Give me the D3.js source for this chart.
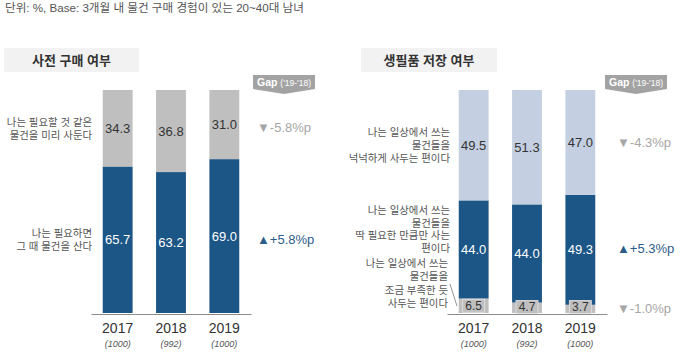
<!DOCTYPE html>
<html><head><meta charset="utf-8">
<script src="https://cdn.jsdelivr.net/npm/d3@7"></script>
<style>
body{margin:0;background:#fff;}
svg{display:block;font-family:"Liberation Sans","Noto Sans CJK KR",sans-serif;}
</style></head>
<body><svg id="c" width="680" height="358"></svg>
<script>
const years = ['2017','2018','2019'];
const samples = ['(1000)','(992)','(1000)'];
// left panel: 사전 구매 여부
const leftTop = [34.3, 36.8, 31.0];      // 미리 사둔다
const leftBottom = [65.7, 63.2, 69.0];   // 그 때 산다
const leftGaps = ['▼-5.8%p', '▲+5.8%p'];
// right panel: 생필품 저장 여부
const rightTop = [49.5, 51.3, 47.0];     // 넉넉하게
const rightMid = [44.0, 44.0, 49.3];     // 딱 필요한 만큼
const rightBottom = [6.5, 4.7, 3.7];     // 조금 부족한 듯
const rightGaps = ['▼-4.3%p', '▲+5.3%p', '▼-1.0%p'];

const C_BLUE = '#1c5686', C_GRAY = '#bfbfbf', C_LBLUE = '#c4cfe1';
const svg = d3.select('#c');

svg.append('text').attr('x', 5).attr('y', 12).attr('font-size', 11.6).attr('fill', '#555')
  .text('단위: %, Base: 3개월 내 물건 구매 경험이 있는 20~40대 남녀');

const y = d3.scaleLinear().domain([0, 100]).range([313, 90]);

function panel(x0, title, titleBox, series, colors, textColors, labels, gaps, gapX, gapLabelX) {
  const g = svg.append('g');
  const x = d3.scaleBand().domain(years).range([x0, x0 + 160]).paddingInner(0.44).paddingOuter(0.22);
  // title box
  g.append('rect').attr('x', titleBox[0]).attr('y', 48).attr('width', titleBox[1]).attr('height', 24).attr('fill', '#f2f2f2');
  g.append('text').attr('x', titleBox[0] + titleBox[1] / 2).attr('y', 65).attr('text-anchor', 'middle')
    .attr('font-size', 13).attr('font-weight', 'bold').attr('fill', '#333').text(title);
  // gap badge
  const gx = gapLabelX, gw = 62;
  g.append('path').attr('d', `M${gx},75 H${gx + gw} V89 L${gx + gw / 2},94 L${gx},89 Z`).attr('fill', '#a3a3a3');
  const gt = g.append('text').attr('x', gx + gw / 2).attr('y', 86).attr('text-anchor', 'middle').attr('fill', '#fff');
  gt.append('tspan').attr('font-size', 10.5).attr('font-weight', 'bold').text('Gap ');
  gt.append('tspan').attr('font-size', 8.5).text("('19-'18)");
  // stacked bars
  const stackData = years.map((yr, i) => {
    const o = { year: yr };
    series.forEach((s, k) => o['s' + k] = s[i]);
    return o;
  });
  const keys = series.map((s, k) => 's' + k);
  const stacked = d3.stack().keys(keys)(stackData);
  stacked.forEach((layer, k) => {
    g.selectAll(null).data(layer).enter().append('rect')
      .attr('x', d => x(d.data.year)).attr('width', x.bandwidth())
      .attr('y', d => y(d[1])).attr('height', d => y(d[0]) - y(d[1]))
      .attr('fill', colors[k]);
  });
  // value labels
  stacked.forEach((layer, k) => {
    layer.forEach(d => {
      const v = d.data[keys[k]];
      const mid = (y(d[0]) + y(d[1])) / 2;
      const small = v < 10;
      const cy = small ? Math.min(mid, 307) : mid;
      if (small) {
        g.append('rect').attr('x', x(d.data.year) + x.bandwidth() / 2 - 11).attr('y', cy - 6.5)
          .attr('width', 22).attr('height', 13).attr('fill', colors[k]).attr('stroke', '#e3e3e3').attr('stroke-width', 0.8);
      }
      g.append('text').attr('x', x(d.data.year) + x.bandwidth() / 2).attr('y', cy)
        .attr('dy', '0.36em').attr('text-anchor', 'middle').attr('font-size', small ? 12 : 13)
        .attr('fill', textColors[k]).text(v.toFixed(1));
    });
  });
  // axis
  const axis = d3.axisBottom(x).tickSize(0).tickPadding(9);
  const ag = g.append('g').attr('transform', 'translate(0,314)').call(axis);
  ag.select('.domain').attr('stroke', '#8c8c8c').attr('stroke-width', 1.2);
  ag.selectAll('.tick text').attr('font-size', 14).attr('fill', '#333').attr('font-family', '"Liberation Sans",sans-serif');
  ag.selectAll('.tick').append('text').attr('y', 27).attr('dy', '0.71em').attr('text-anchor', 'middle')
    .attr('font-size', 9).attr('font-style', 'italic').attr('fill', '#555')
    .text((d, i) => samples[i]);
  // category labels
  labels.forEach(lb => {
    const t = g.append('text').attr('text-anchor', 'end').attr('font-size', 10.4).attr('fill', '#555');
    lb.lines.forEach((ln, j) => t.append('tspan').attr('x', lb.x).attr('y', lb.y + j * lb.lh).text(ln));
  });
  // gap values
  gaps.forEach(gp => {
    const up = gp.t.startsWith('▲');
    g.append('text').attr('x', gapX).attr('y', gp.y).attr('dy', '0.36em').attr('font-size', 13)
      .attr('fill', up ? '#2b5d8a' : '#a6a6a6').text(gp.t);
  });
  return g;
}

panel(91, '사전 구매 여부', [4, 135], [leftBottom, leftTop], [C_BLUE, C_GRAY], ['#fff', '#333'],
  [{ x: 92, y: 126, lh: 12.5, lines: ['나는 필요할 것 같은', '물건을 미리 사둔다'] },
   { x: 92, y: 237, lh: 12.5, lines: ['나는 필요하면', '그 때 물건을 산다'] }],
  [{ t: leftGaps[0], y: 127 }, { t: leftGaps[1], y: 239 }],
  257, 253);

const rg = panel(447, '생필품 저장 여부', [361, 136], [rightBottom, rightMid, rightTop], [C_GRAY, C_BLUE, C_LBLUE], ['#333', '#fff', '#333'],
  [{ x: 450, y: 136, lh: 13, lines: ['나는 일상에서 쓰는', '물건들을', '넉넉하게 사두는 편이다'] },
   { x: 450, y: 214, lh: 12.7, lines: ['나는 일상에서 쓰는', '물건들을', '딱 필요한 만큼만 사는', '편이다'] },
   { x: 448, y: 267, lh: 13.3, lines: ['나는 일상에서 쓰는', '물건들을', '조금 부족한 듯', '사두는 편이다'] }],
  [{ t: rightGaps[0], y: 142 }, { t: rightGaps[1], y: 248 }, { t: rightGaps[2], y: 308 }],
  617, 605);
rg.append('line').attr('x1', 450).attr('y1', 284).attr('x2', 457).attr('y2', 306).attr('stroke', '#777').attr('stroke-width', 0.8);
</script></body></html>
